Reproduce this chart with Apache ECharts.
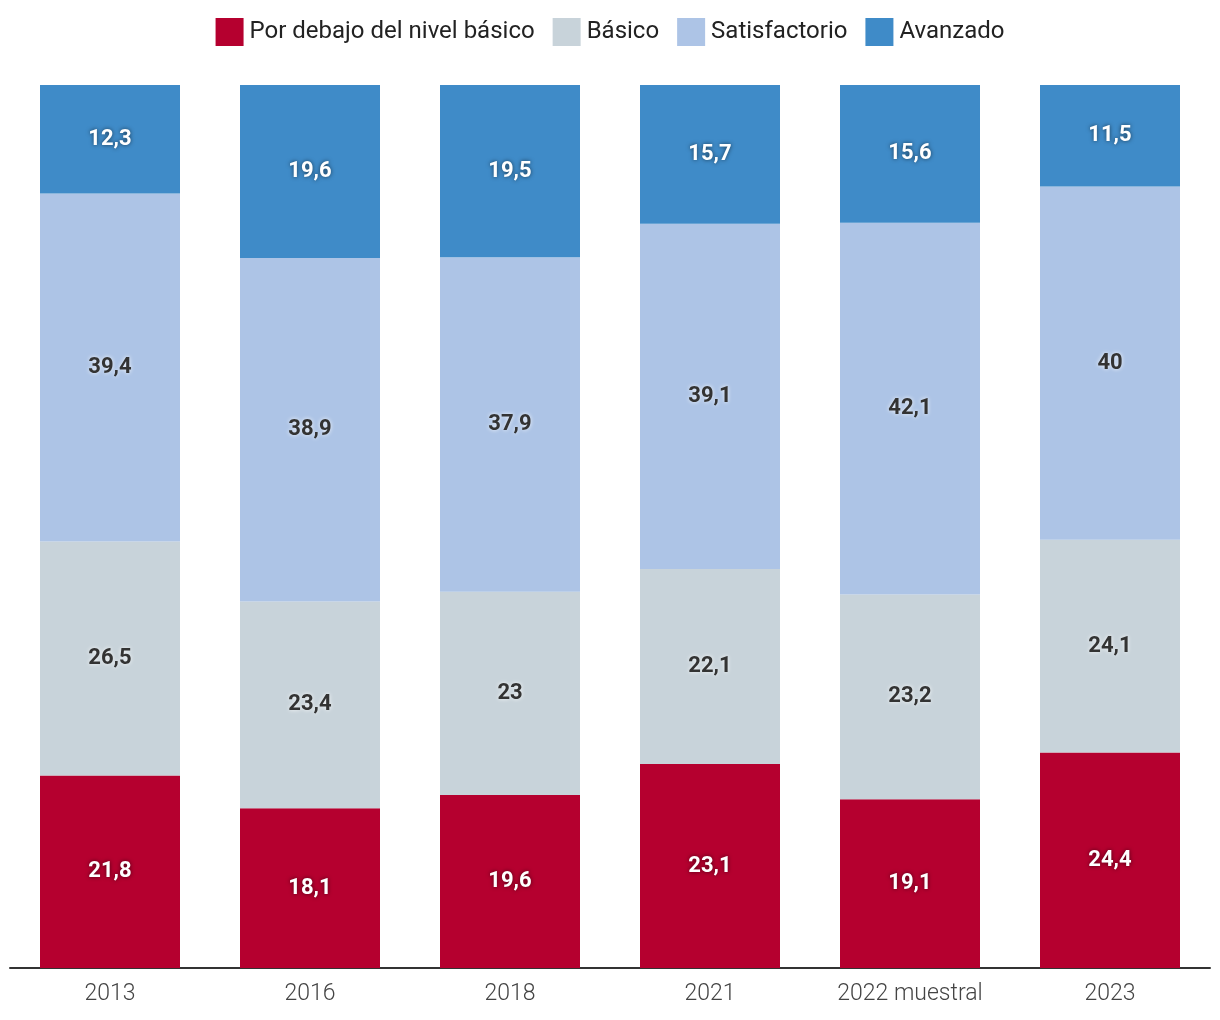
<!DOCTYPE html>
<html><head><meta charset="utf-8">
<script src="https://cdn.jsdelivr.net/npm/echarts@6/dist/echarts.min.js"></script>
<style>html,body{margin:0;padding:0;background:#fff}#c{width:1220px;height:1020px}</style>
</head><body><div id="c"></div>
<script>
const categories = ['2013','2016','2018','2021','2022 muestral','2023'];
const seriesNames = ['Por debajo del nivel básico','Básico','Satisfactorio','Avanzado'];
const debajo = [21.8,18.1,19.6,23.1,19.1,24.4];
const basico = [26.5,23.4,23,22.1,23.2,24.1];
const satisfactorio = [39.4,38.9,37.9,39.1,42.1,40];
const avanzado = [12.3,19.6,19.5,15.7,15.6,11.5];
const colors = ['#b5002f','#c8d3da','#adc4e6','#3f8bc8'];
const dataSets = [debajo,basico,satisfactorio,avanzado];
const darkLabel = [false,true,true,false];

const chart = echarts.init(document.getElementById('c'));
chart.setOption({
  animation:false,
  textStyle:{fontFamily:'Roboto'},
  legend:{
    top:13, left:'center', itemWidth:28, itemHeight:28, itemGap:18,
    icon:'rect',
    textStyle:{fontSize:24,color:'#222',fontFamily:'Roboto',padding:[0,0,0,1]},
    data:seriesNames
  },
  grid:{left:10,right:10,top:85,bottom:52,containLabel:false},
  xAxis:{
    type:'category', data:categories,
    axisLine:{lineStyle:{color:'#333',width:2}},
    axisTick:{show:false},
    axisLabel:{fontSize:23,color:'#444',margin:15,fontFamily:'Roboto',fontWeight:300}
  },
  yAxis:{type:'value',min:0,max:100,show:false,splitLine:{show:false}},
  series: dataSets.map((d,i)=>({
    name:seriesNames[i], type:'bar', stack:'t', barWidth:140,
    itemStyle:{color:colors[i]},
    data:d,
    label:{
      show:true, position:'inside',
      formatter:p=>String(p.value).replace('.',','),
      fontSize:22, fontWeight:'bold', fontFamily:'Roboto',
      color: darkLabel[i] ? '#333' : '#fff',
      textShadowColor: darkLabel[i] ? 'rgba(255,255,255,0.9)' : 'rgba(0,0,0,0.6)',
      textShadowBlur:4
    }
  }))
});
</script></body></html>
